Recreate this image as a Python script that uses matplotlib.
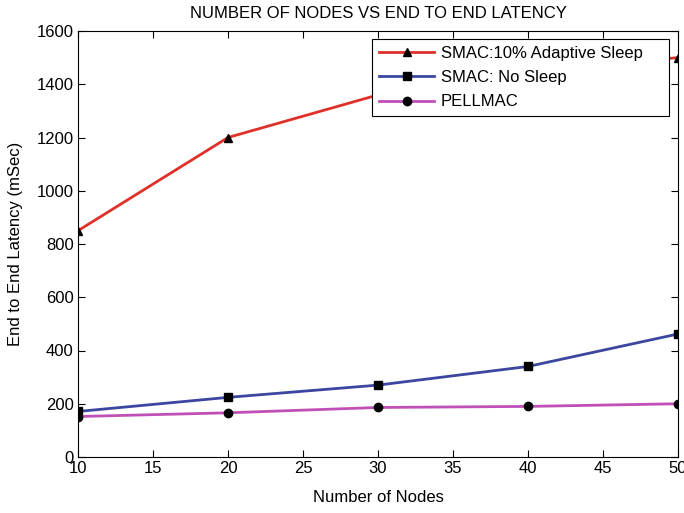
import matplotlib
matplotlib.use('Agg')
import matplotlib.pyplot as plt

plt.rcParams['font.family'] = ['Liberation Sans', 'DejaVu Sans']

nodes = [10, 20, 30, 40, 50]
smac_adaptive = [850, 1200, 1360, 1450, 1500]
smac_nosleep = [171, 224, 270, 340, 462]
pellmac = [152, 166, 186, 190, 200]

fig = plt.figure(figsize=(6.84, 5.13), dpi=100)
ax = fig.add_axes([78/684, (513-457)/513, 600/684, 426/513])

ax.plot(nodes, smac_adaptive, color='#e0302a', lw=2, marker='^', ms=6,
        mfc='black', mec='black', label='SMAC:10% Adaptive Sleep', zorder=2)
ax.plot(nodes, smac_nosleep, color='#3a46a0', lw=2, marker='s', ms=6,
        mfc='black', mec='black', label='SMAC: No Sleep', zorder=2)
ax.plot(nodes, pellmac, color='#c050b8', lw=2, marker='o', ms=6,
        mfc='black', mec='black', label='PELLMAC', zorder=2)

ax.set_xlim(10, 50)
ax.set_ylim(0, 1600)
ax.set_xticks(range(10, 51, 5))
ax.set_yticks(range(0, 1601, 200))
ax.tick_params(direction='in', top=True, right=True, labelsize=12, length=5, pad=3)
ax.set_title('NUMBER OF NODES VS END TO END LATENCY', fontsize=12, pad=9)
ax.set_xlabel('Number of Nodes', fontsize=12, labelpad=10)
ax.set_ylabel('End to End Latency (mSec)', fontsize=12, labelpad=10)

# legend box stretched to a fixed width inside the upper right corner
leg = ax.legend(loc='upper left', bbox_to_anchor=(0.49, 0.981, 0.495, 0.0),
                mode='expand', fontsize=12, fancybox=False, framealpha=1,
                edgecolor='black', borderaxespad=0, handlelength=3.3,
                handletextpad=0.4, labelspacing=0.55, borderpad=0.42)
leg.get_frame().set_linewidth(0.8)
leg.set_zorder(5)

fig.savefig('out.png', dpi=100)
